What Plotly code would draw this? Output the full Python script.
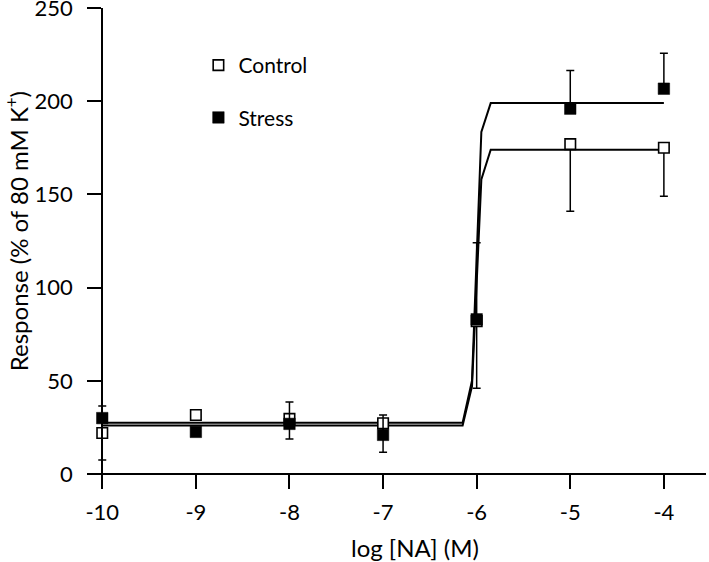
import plotly.graph_objects as go

# ---- data ----
dose = [-10, -9, -8, -7, -6, -5, -4]
control_mean = [22, 31.7, 29.6, 27.2, 82, 177, 175]
control_err_down = [14.5, 1, 10.8, 15.5, 36, 36, 26]
stress_mean = [30, 22.6, 26.9, 21, 83, 196, 206.7]
stress_err_up = [6.5, 1, 11.8, 10.7, 41, 20.5, 19]
no_err = [0, 0, 0, 0, 0, 0, 0]

fit_x = [-10, -6.15, -6.05, -5.95, -5.85, -4]
control_fit = [26, 26, 47, 158, 174, 174]
stress_fit = [27.5, 27.5, 50, 183.5, 199, 199]

x_ticks = [-10, -9, -8, -7, -6, -5, -4]
y_ticks = [0, 50, 100, 150, 200, 250]
x_range = [-10.163, -3.55]
y_range = [-7.5, 250]

x_title = "log [NA] (M)"
y_title = "Response (% of 80 mM K<sup>+</sup>)"

FONT = "Lato"
fig = go.Figure()

fig.add_trace(go.Scatter(x=fit_x, y=control_fit, mode="lines",
                         line=dict(color="black", width=2), showlegend=False,
                         hoverinfo="skip"))
fig.add_trace(go.Scatter(x=fit_x, y=stress_fit, mode="lines",
                         line=dict(color="black", width=2), showlegend=False,
                         hoverinfo="skip"))

fig.add_trace(go.Scatter(
    x=dose, y=control_mean, mode="markers", name="Control", legendgroup="c",
    marker=dict(symbol="square", size=10.5, color="white",
                line=dict(color="black", width=1.6)),
    error_y=dict(type="data", symmetric=False, array=no_err,
                 arrayminus=control_err_down, color="black", thickness=1.5, width=4),
))
fig.add_trace(go.Scatter(
    x=dose, y=stress_mean, mode="markers", name="Stress", legendgroup="s",
    marker=dict(symbol="square", size=11.5, color="black",
                line=dict(color="black", width=0.5)),
    error_y=dict(type="data", symmetric=False, array=stress_err_up,
                 arrayminus=no_err, color="black", thickness=1.5, width=4),
))

ypos = (x_ticks[0] - x_range[0]) / (x_range[1] - x_range[0])
xpos = (0 - y_range[0]) / (y_range[1] - y_range[0])

fig.update_layout(
    width=709, height=562,
    margin=dict(l=87, r=3, t=8, b=74),
    paper_bgcolor="white", plot_bgcolor="white",
    font=dict(family=FONT, size=22, color="black"),
    showlegend=True,
    legend=dict(x=0.180, y=0.923, xanchor="left", yanchor="top",
                traceorder="grouped", tracegroupgap=22,
                font=dict(family=FONT, size=21, color="black"),
                bgcolor="rgba(0,0,0,0)"),
    xaxis=dict(range=x_range, tickvals=x_ticks, ticktext=[str(v) for v in x_ticks],
               showgrid=False, zeroline=False, showline=True, linecolor="black",
               linewidth=2, ticks="outside", ticklen=14, tickwidth=2, tickcolor="black",
               anchor="free", position=xpos, ticklabelstandoff=5, automargin=False,
               ticklabeloverflow="allow",
               tickfont=dict(family=FONT, size=22)),
    yaxis=dict(range=y_range, tickvals=y_ticks, ticktext=[str(v) for v in y_ticks],
               showgrid=False, zeroline=False, showline=True, linecolor="black",
               linewidth=2, ticks="outside", ticklen=14, tickwidth=2, tickcolor="black",
               anchor="free", position=ypos, ticklabelstandoff=10, automargin=False,
               ticklabeloverflow="allow",
               tickfont=dict(family=FONT, size=22)),
    annotations=[
        dict(text=x_title, xref="paper", yref="paper", x=0.53, y=-0.124,
             xanchor="center", yanchor="middle", showarrow=False,
             font=dict(family=FONT, size=24, color="black")),
        dict(text=y_title, xref="paper", yref="paper", x=-0.113, y=0.535,
             xanchor="center", yanchor="middle", showarrow=False, textangle=-90,
             font=dict(family=FONT, size=24, color="black")),
    ],
)

fig.write_html("out.html", config={"displayModeBar": False},
               post_script="document.body.style.margin='0';")
